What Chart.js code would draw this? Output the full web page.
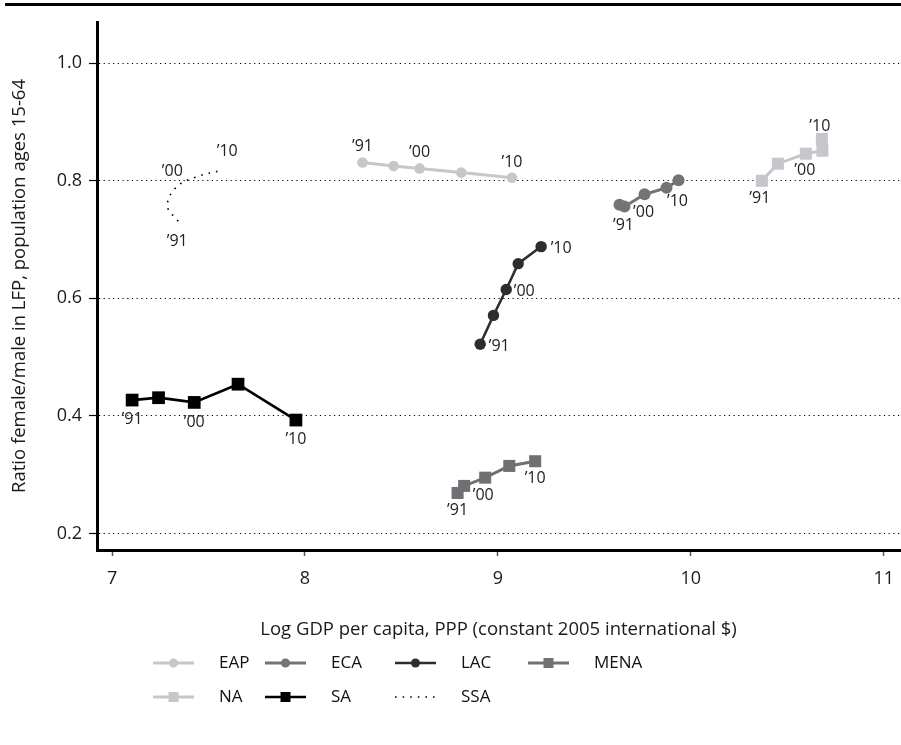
<!DOCTYPE html>
<html>
<head>
<meta charset="utf-8">
<title>Female/male LFP ratio and GDP per capita</title>
<script src="https://cdn.jsdelivr.net/npm/chart.js@4.4.1/dist/chart.umd.min.js"></script>
<style>
  html, body { margin: 0; padding: 0; background: #fff; }
  #wrap { width: 901px; height: 745px; }
</style>
</head>
<body>
<div id="wrap"><canvas id="grafico" width="901" height="745"></canvas></div>
<script>
// 1991, 1995, 2000, 2005, 2010
const years = ["\u201991", "\u201995", "\u201900", "\u201905", "\u201910"];
const labeledIdx = [0, 2, 4];

// log GDP per capita (x) and ratio female/male LFP (y)
const gdpEAP = [8.298, 8.459, 8.594, 8.810, 9.073];
const lfpEAP = [0.831, 0.825, 0.821, 0.814, 0.805];
const gdpECA = [9.630, 9.656, 9.760, 9.874, 9.936];
const lfpECA = [0.759, 0.756, 0.777, 0.788, 0.801];
const gdpLAC = [8.908, 8.977, 9.043, 9.105, 9.224];
const lfpLAC = [0.522, 0.571, 0.615, 0.659, 0.688];
const gdpMENA = [8.791, 8.825, 8.934, 9.059, 9.193];
const lfpMENA = [0.269, 0.281, 0.295, 0.315, 0.323];
const gdpNA = [10.368, 10.451, 10.596, 10.682, 10.679];
const lfpNA = [0.800, 0.829, 0.846, 0.851, 0.871];
const gdpSA = [7.104, 7.241, 7.426, 7.653, 7.953];
const lfpSA = [0.427, 0.431, 0.423, 0.454, 0.393];
const gdpSSA = [7.343, 7.287, 7.333, 7.432, 7.571];
const lfpSSA = [0.731, 0.757, 0.789, 0.806, 0.818];

const xTicks = [7, 8, 9, 10, 11];
const yTicks = [0.2, 0.4, 0.6, 0.8, 1.0];

// where the year labels sit relative to their point (px)
const labelOffsets = {
  EAP: [[0, -16], [0, -16], [0, -15]],
  ECA: [[4, 21], [-1, 18], [-1, 21]],
  LAC: [[19, 2], [18, 2], [20, 2]],
  MENA: [[0, 17], [-2, 18], [0, 17]],
  NA: [[-2, 18], [-1, 17], [-2, -13]],
  SA: [[0, 19], [0, 20], [0, 19]],
  SSA: [[-1, 20], [-4, -16], [5, -19]]
};

const pts = (xs, ys) => xs.map((x, i) => ({ x: x, y: ys[i] }));

function serie(label, xs, ys, color, style, radius, width) {
  return {
    label: label,
    data: pts(xs, ys),
    showLine: true,
    borderColor: color,
    backgroundColor: color,
    borderWidth: width,
    pointStyle: style,
    pointRadius: radius,
    pointHoverRadius: radius,
    pointBorderWidth: 0,
    pointBackgroundColor: color
  };
}

const datasets = [
  serie("EAP", gdpEAP, lfpEAP, "#c6c7cb", "circle", 5.3, 3),
  serie("ECA", gdpECA, lfpECA, "#737477", "circle", 6, 3),
  serie("LAC", gdpLAC, lfpLAC, "#2d2d30", "circle", 5.7, 2.5),
  serie("MENA", gdpMENA, lfpMENA, "#6f7074", "rect", 8.5, 3),
  serie("NA", gdpNA, lfpNA, "#c6c7cb", "rect", 8.5, 3),
  serie("SA", gdpSA, lfpSA, "#000000", "rect", 9, 2.7),
  Object.assign(serie("SSA", gdpSSA, lfpSSA, "#000000", "circle", 0, 1.6), {
    borderDash: [1.6, 6],
    tension: 0.4
  })
];

// legend grid: columns and rows in px
const legendCols = [153, 265, 395, 528];
const legendRows = [663, 697];

const decor = {
  id: "decor",
  beforeDraw(chart) {
    const ctx = chart.ctx;
    ctx.save();
    ctx.fillStyle = "#000";
    ctx.fillRect(5, 3, 896, 3);
    ctx.restore();
  },
  afterDatasetsDraw(chart) {
    const ctx = chart.ctx;
    ctx.save();
    ctx.font = "16px 'Open Sans'";
    ctx.fillStyle = "#222";
    ctx.textAlign = "center";
    ctx.textBaseline = "middle";
    chart.data.datasets.forEach((ds, d) => {
      const meta = chart.getDatasetMeta(d);
      labelOffsets[ds.label].forEach((off, k) => {
        const idx = labeledIdx[k];
        const p = meta.data[idx];
        ctx.fillText(years[idx], p.x + off[0], p.y + off[1]);
      });
    });

    // legend
    ctx.font = "17px 'Open Sans'";
    ctx.textAlign = "left";
    chart.data.datasets.forEach((ds, d) => {
      const x = legendCols[d % 4];
      const y = legendRows[Math.floor(d / 4)];
      const len = 41;
      ctx.strokeStyle = ds.borderColor;
      ctx.lineWidth = ds.borderWidth;
      ctx.setLineDash(ds.borderDash || []);
      ctx.beginPath();
      ctx.moveTo(x, y);
      ctx.lineTo(x + len, y);
      ctx.stroke();
      ctx.setLineDash([]);
      ctx.fillStyle = ds.borderColor;
      if (ds.pointRadius > 0) {
        if (ds.pointStyle === "rect") {
          ctx.fillRect(x + len / 2 - 5, y - 5, 10, 10);
        } else {
          ctx.beginPath();
          ctx.arc(x + len / 2, y, 4.5, 0, Math.PI * 2);
          ctx.fill();
        }
      }
      ctx.fillStyle = "#111";
      ctx.fillText(ds.label, x + 66, y);
    });
    ctx.restore();
  }
};

Chart.defaults.font.family = "'Open Sans', sans-serif";
Chart.defaults.color = "#222";

const ctxGraf = document.getElementById("grafico").getContext("2d");
new Chart(ctxGraf, {
  type: "scatter",
  data: { datasets: datasets },
  options: {
    responsive: false,
    devicePixelRatio: 1,
    animation: false,
    layout: { autoPadding: false, padding: { top: 22, right: 1, left: 0, bottom: 95 } },
    plugins: {
      legend: { display: false },
      tooltip: { enabled: false }
    },
    scales: {
      x: {
        type: "linear",
        min: 6.922,
        max: 11.084,
        afterBuildTicks: (axis) => { axis.ticks = xTicks.map(v => ({ value: v })); },
        afterFit: (scale) => {
          scale.height = 100;
          scale.paddingLeft = 0;
          scale.paddingRight = 0;
        },
        grid: { drawOnChartArea: false, drawTicks: true, tickLength: 6, tickColor: "#555", tickWidth: 1.5 },
        border: { display: true, color: "#000", width: 3 },
        ticks: { padding: 12, font: { size: 18 }, color: "#1a1a1a", maxRotation: 0 },
        title: {
          display: true,
          text: "Log GDP per capita, PPP (constant 2005 international $)",
          font: { size: 18.5 },
          color: "#1a1a1a",
          padding: { top: 0, bottom: 9 }
        }
      },
      y: {
        type: "linear",
        min: 0.172,
        max: 1.07,
        afterBuildTicks: (axis) => { axis.ticks = yTicks.map(v => ({ value: v })); },
        afterFit: (scale) => { scale.width = 97; },
        grid: { color: "#000", lineWidth: 1, drawTicks: true, tickLength: 8, tickColor: "#000", tickWidth: 1.2 },
        border: { display: true, color: "#000", width: 3, dash: [1.2, 3.5] },
        ticks: { padding: 7, font: { size: 18 }, color: "#1a1a1a", callback: (v) => v.toFixed(1) },
        title: {
          display: true,
          text: "Ratio female/male in LFP, population ages 15-64",
          font: { size: 18.5 },
          color: "#1a1a1a",
          padding: { top: 9, bottom: 0 }
        }
      }
    }
  },
  plugins: [decor]
});
</script>
</body>
</html>
